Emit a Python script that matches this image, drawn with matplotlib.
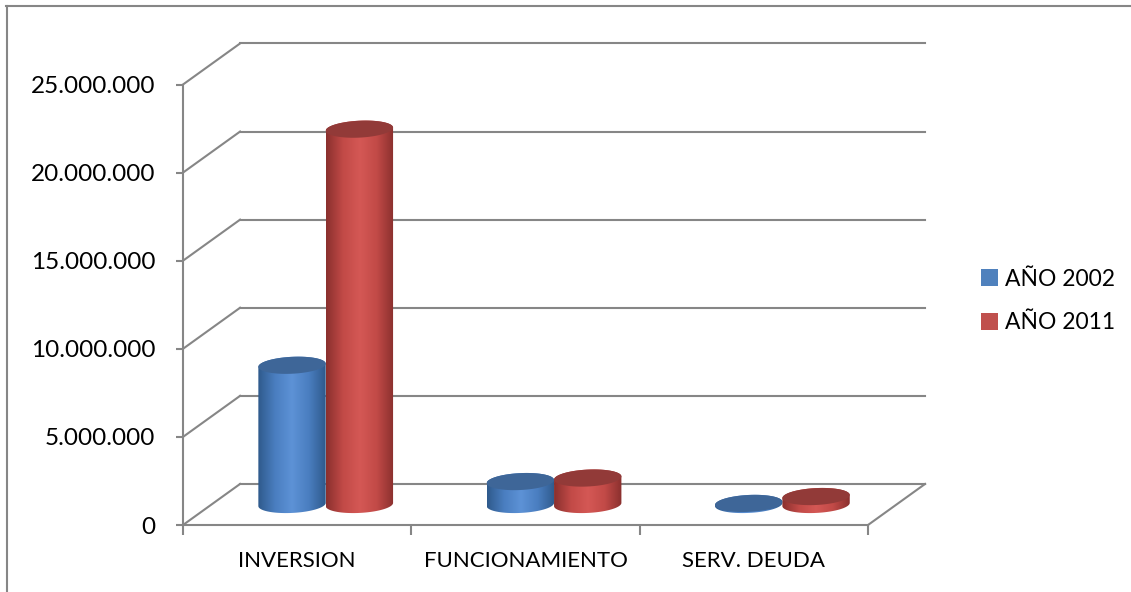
import matplotlib.pyplot as plt
import numpy as np
from matplotlib.path import Path
from matplotlib.patches import PathPatch, Patch
from matplotlib.lines import Line2D
from matplotlib.colors import LinearSegmentedColormap

# values
categories = ['INVERSION', 'FUNCIONAMIENTO', 'SERV. DEUDA']
series_names = ['AÑO 2002', 'AÑO 2011']
anio_2002 = [7900000, 1300000, 60000]
anio_2011 = [21300000, 1500000, 450000]
y_ticks = [0, 5000000, 10000000, 15000000, 20000000, 25000000]
y_labels = ['0', '5.000.000', '10.000.000', '15.000.000', '20.000.000', '25.000.000']

plt.rcParams['font.family'] = ['Lato', 'DejaVu Sans']

GRID = '#868686'
# depth offset of the back wall (x in categories, y in value units)
DX, DY = 0.25, 2330000
BAR_W = 0.295
ELL_B = 480000  # half height of the cylinder ellipses in value units


def ellipse_pts(cx, cy, a, b, t0, t1, tilt=90000):
    t = np.linspace(t0, t1, 60)
    x = cx + a * np.cos(t)
    y = cy + b * np.sin(t) + tilt * np.cos(t)
    return x, y


def cylinder(ax, cx, base, top, edge, mid, light, cap):
    a = BAR_W / 2
    # body: straight sides plus the lower half of the base ellipse
    bx, by = ellipse_pts(cx, base, a, ELL_B, 0, -np.pi)
    tx, ty = ellipse_pts(cx, top, a, ELL_B, np.pi, 0)
    xs = np.concatenate([bx, tx])
    ys = np.concatenate([by, ty])
    body = PathPatch(Path(np.column_stack([xs, ys])), facecolor='none',
                     edgecolor='none', clip_on=False)
    ax.add_patch(body)
    cmap = LinearSegmentedColormap.from_list('c', [edge, mid, light, mid, edge])
    grad = np.linspace(0, 1, 200).reshape(1, -1)
    im = ax.imshow(grad, cmap=cmap, aspect='auto', interpolation='bilinear',
                   extent=(cx - a, cx + a, base - ELL_B * 1.3, top + ELL_B * 1.3),
                   zorder=3)
    im.set_clip_path(body)
    # top cap
    ex, ey = ellipse_pts(cx, top, a, ELL_B, 0, 2 * np.pi)
    ax.fill(ex, ey, color=cap, zorder=4, clip_on=False, lw=0)


fig = plt.figure(figsize=(11.31, 5.92), dpi=100)
ax = fig.add_axes([183 / 1131, 67 / 592, 685 / 1131, 440.5 / 592])
ax.set_xlim(0, 3)
ax.set_ylim(0, 25000000)

# side wall and back wall gridlines
for v in y_ticks:
    ax.plot([0, DX], [v, v + DY], color=GRID, lw=1.5, clip_on=False, zorder=1)
    ax.plot([DX, 3 + DX], [v + DY, v + DY], color=GRID, lw=1.5, clip_on=False, zorder=1)
# floor right edge
ax.plot([3, 3 + DX], [0, DY], color=GRID, lw=1.5, clip_on=False, zorder=1)

# cylinders at mid depth
styles = [
    ('#2F5A8C', '#4A7EC0', '#5D92D6', '#3E6698'),
    ('#8A302E', '#C24A47', '#D45855', '#923A38'),
]
for s, vals in enumerate([anio_2002, anio_2011]):
    off = (s - 0.5) * BAR_W
    for i, v in enumerate(vals):
        cx = i + 0.5 + off + DX / 2
        base = DY / 2
        cylinder(ax, cx, base, base + v, *styles[s])

for side in ['top', 'right']:
    ax.spines[side].set_visible(False)
for side in ['left', 'bottom']:
    ax.spines[side].set_color(GRID)
    ax.spines[side].set_linewidth(1.5)
    ax.spines[side].set_zorder(5)

ax.set_yticks(y_ticks)
ax.set_yticklabels(y_labels)
ax.tick_params(axis='y', length=5, width=1.5, color=GRID, labelsize=17.5, pad=15)
ax.set_xticks([0, 1, 2, 3])
ax.set_xticklabels([])
ax.tick_params(axis='x', length=7, width=1.5, color=GRID)
ax.set_xticks([0.5, 1.5, 2.5], minor=True)
ax.set_xticklabels(categories, minor=True)
ax.tick_params(axis='x', which='minor', length=0, labelsize=16, pad=19)
ax.patch.set_visible(False)

handles = [Patch(facecolor='#4F81BD'), Patch(facecolor='#C0504D')]
fig.legend(handles, series_names, loc='center left', bbox_to_anchor=(960 / 1131, 1 - 301 / 592),
           frameon=False, fontsize=16.5, handlelength=0.75, handleheight=0.75,
           handletextpad=0.3, labelspacing=1.0)

# chart area border (top and left visible)
fig.add_artist(Line2D([6 / 1131, 1], [1 - 6 / 592, 1 - 6 / 592], color=GRID, lw=1.5))
fig.add_artist(Line2D([6.5 / 1131, 6.5 / 1131], [0, 1 - 6 / 592], color=GRID, lw=1.5))

fig.savefig('out.png', dpi=100)
